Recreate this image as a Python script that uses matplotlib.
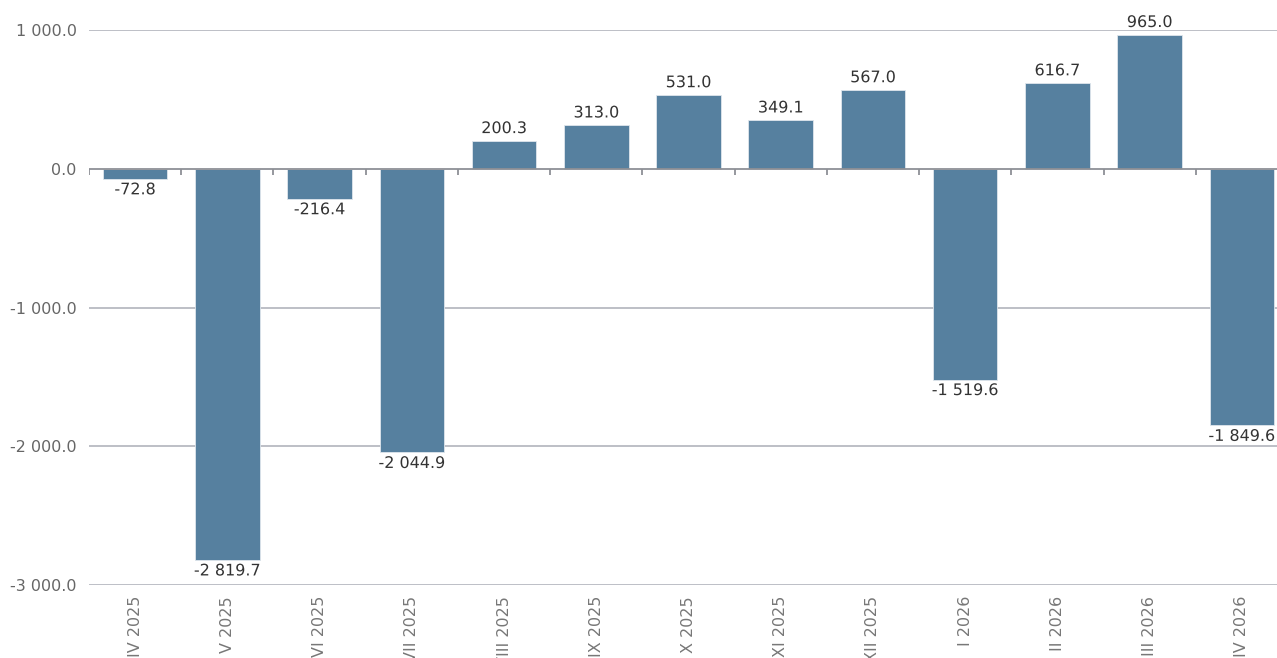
import matplotlib
matplotlib.use("Agg")
import matplotlib.pyplot as plt
import matplotlib.patheffects as pe
import numpy as np

# data
months = ["IV 2025", "V 2025", "VI 2025", "VII 2025", "VIII 2025", "IX 2025", "X 2025",
          "XI 2025", "XII 2025", "I 2026", "II 2026", "III 2026", "IV 2026"]
values = [-72.8, -2819.7, -216.4, -2044.9, 200.3, 313.0, 531.0,
          349.1, 567.0, -1519.6, 616.7, 965.0, -1849.6]
yticks = [1000, 0, -1000, -2000, -3000]


def fmt(v):
    # space as thousands separator, one decimal
    s = "{:,.1f}".format(v)
    return s.replace(",", " ")


fig = plt.figure(figsize=(12.77, 6.58), dpi=100)
# plot area runs a little past the right edge of the picture, like the original
ax = fig.add_axes([89 / 1277, 73 / 658, (1288 - 89) / 1277, 555 / 658])

x = np.arange(len(months))
bars = ax.bar(x, values, width=0.7, color="#56809f", edgecolor="#dfe6ec", linewidth=0.6, zorder=3)

ax.set_xlim(-0.5, len(months) - 0.5)
ax.set_ylim(-3000, 1000)

# grid lines
for t in yticks:
    if t == 0:
        continue
    ax.axhline(t, color="#b2b4bc", linewidth=1.2, zorder=1)
ax.axhline(0, color="#8e9096", linewidth=1.3, zorder=4)
# small ticks on the zero line between categories
edges = np.arange(len(months) + 1) - 0.5
ax.vlines(edges, -45, 0, color="#8e9096", linewidth=1.3, zorder=4)

for s in ax.spines.values():
    s.set_visible(False)

ax.set_yticks(yticks)
ax.set_yticklabels([fmt(t) for t in yticks])
ax.tick_params(axis="y", length=0, pad=9, labelsize=11.5, labelcolor="#666666")

ax.set_xticks(x)
ax.set_xticklabels(months, rotation=90, va="top", ha="center")
ax.tick_params(axis="x", length=0, pad=8, labelsize=11.5, labelcolor="#777777")

stroke = [pe.withStroke(linewidth=3, foreground="white")]
for b, v in zip(bars, values):
    cx = b.get_x() + b.get_width() / 2
    if v >= 0:
        ax.annotate(fmt(v), (cx, v), xytext=(0, 3.5), textcoords="offset points",
                    ha="center", va="bottom", fontsize=11.5, color="#333333",
                    path_effects=stroke, zorder=5, annotation_clip=False)
    else:
        ax.annotate(fmt(v), (cx, v), xytext=(0, -2.5), textcoords="offset points",
                    ha="center", va="top", fontsize=11.5, color="#333333",
                    path_effects=stroke, zorder=5, annotation_clip=False)

fig.savefig("out.png", dpi=100)
